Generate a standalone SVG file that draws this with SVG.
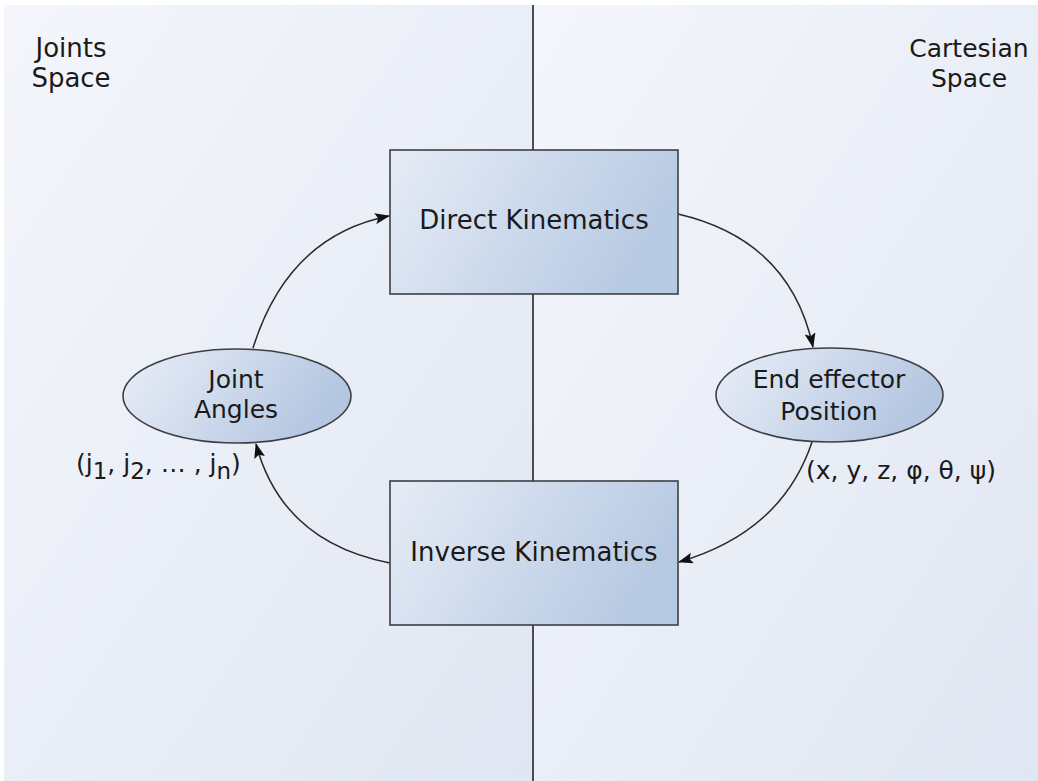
<svg xmlns="http://www.w3.org/2000/svg" width="1038" height="781" viewBox="0 0 1038 781">
<style>
text{font-family:"DejaVu Sans","Liberation Sans",sans-serif;fill:#1a1a1a}
.lbl{font-size:26px;text-anchor:middle}
.el{font-size:25px;text-anchor:middle}
.box{fill:url(#gBox);stroke:#3c3f45;stroke-width:1.6}
.ell{fill:url(#gEll);stroke:#3c3f45;stroke-width:1.6}
.con{fill:none;stroke:#2a2a2a;stroke-width:1.5;marker-end:url(#arr)}
</style>
<defs>
<linearGradient id="gBg" x1="0" y1="0" x2="1" y2="1">
<stop offset="0" stop-color="#f4f6fb"/>
<stop offset="1" stop-color="#e0e6f2"/>
</linearGradient>
<linearGradient id="gBox" x1="0" y1="0" x2="1" y2="0.3">
<stop offset="0" stop-color="#e6ecf6"/>
<stop offset="1" stop-color="#b8cae3"/>
</linearGradient>
<linearGradient id="gEll" x1="0" y1="0" x2="1" y2="0.3">
<stop offset="0" stop-color="#eaeff8"/>
<stop offset="1" stop-color="#b4c6e1"/>
</linearGradient>
<marker id="arr" markerWidth="15" markerHeight="11" refX="14" refY="5.5" orient="auto" markerUnits="userSpaceOnUse">
<path d="M0,0 L15,5.5 L0,11 L3,5.5 Z" fill="#111"/>
</marker>
</defs>
<rect x="0" y="0" width="1038" height="781" fill="#ffffff"/>
<g id="background">
<rect x="4" y="5" width="529" height="776" fill="url(#gBg)"/>
<rect x="534" y="5" width="504" height="776" fill="url(#gBg)"/>
<line x1="533" y1="5" x2="533" y2="781" stroke="#4a4d55" stroke-width="2"/>
</g>
<g id="region-joints">
<text class="lbl" x="71" y="57">Joints</text>
<text class="lbl" x="71" y="87">Space</text>
</g>
<g id="region-cartesian">
<text class="el" x="969" y="57">Cartesian</text>
<text class="el" x="969" y="87">Space</text>
</g>
<g id="connectors">
<path class="con" d="M253,348 Q288,236 389,216"/>
<path class="con" d="M678,214 Q790,240 813,347"/>
<path class="con" d="M812,442 Q782,532 679,562"/>
<path class="con" d="M390,563 Q282,542 256,444"/>
</g>
<g id="direct-kinematics">
<rect class="box" x="390" y="150" width="288" height="144"/>
<text class="lbl" x="534" y="229">Direct Kinematics</text>
</g>
<g id="inverse-kinematics">
<rect class="box" x="390" y="481" width="288" height="144"/>
<text class="lbl" x="534" y="561">Inverse Kinematics</text>
</g>
<g id="joint-angles">
<ellipse class="ell" cx="237" cy="396" rx="114" ry="47"/>
<text class="el" x="236" y="388">Joint</text>
<text class="el" x="236" y="418">Angles</text>
<text style="font-size:25px" x="76" y="472">(j<tspan dy="7" font-size="23">1</tspan><tspan dy="-7">, j</tspan><tspan dy="7" font-size="23">2</tspan><tspan dy="-7">, … , j</tspan><tspan dy="7" font-size="23">n</tspan><tspan dy="-7">)</tspan></text>
</g>
<g id="end-effector">
<ellipse class="ell" cx="829.5" cy="395" rx="113.5" ry="47"/>
<text class="el" x="829" y="388">End effector</text>
<text class="el" x="829" y="420">Position</text>
<text style="font-size:25px" x="806" y="479">(x, y, z, φ, θ, ψ)</text>
</g>
</svg>
